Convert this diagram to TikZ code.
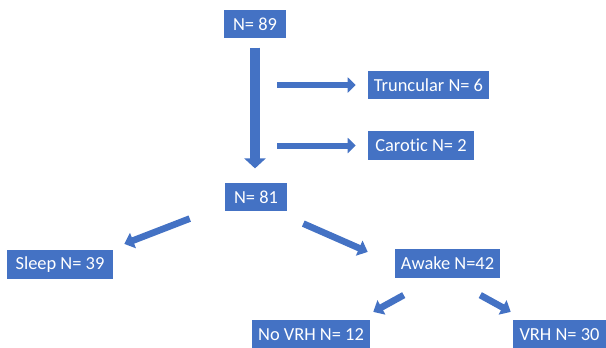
\documentclass[tikz,border=0pt]{standalone}
\usepackage{fontspec}
\setmainfont{Carlito}[Ligatures=NoCommon]
\usetikzlibrary{arrows.meta}
\definecolor{flowblue}{HTML}{4472C4}

\begin{document}
\begin{tikzpicture}[x=0.75pt, y=-0.75pt,
  box/.style={fill=flowblue, text=white, inner sep=0pt, minimum height=21.5pt,
    align=center, font=\fontsize{13.8}{16}\selectfont},
  bigarrow/.style={draw=flowblue, line width=7.5pt, -{Triangle[width=15.75pt, length=7.5pt]}},
  midarrow/.style={draw=flowblue, line width=4.5pt, -{Triangle[width=11.25pt, length=6pt]}},
  slantarrow/.style={draw=flowblue, line width=5pt, -{Triangle[width=12pt, length=7pt]}}]
  \useasboundingbox (0,0) rectangle (606,347);
  \node[box, minimum width=46.5pt] (n89) at (255,24) {N= 89};
  \node[box, minimum width=90.75pt] (trunc) at (428.5,85) {Truncular N= 6};
  \node[box, minimum width=79.5pt] (carot) at (421,145.5) {Carotic N= 2};
  \node[box, minimum width=46.5pt] (n81) at (256,197) {N= 81};
  \node[box, minimum width=79.5pt] (sleep) at (60,264.5) {Sleep N= 39};
  \node[box, minimum width=78.75pt] (awake) at (447.5,263.5) {Awake N=42};
  \node[box, minimum width=88.5pt] (novrh) at (311,334.5) {No VRH N= 12};
  \node[box, minimum width=69.75pt] (vrh) at (559.5,334.5) {VRH N= 30};
  \coordinate (tr0) at (277,85);
  \coordinate (ca0) at (277,145.5);
  \draw[bigarrow, shorten <=6.75pt, shorten >=10.5pt] (n89.south) -- (n89.south |- n81.north);
  \draw[midarrow, shorten >=9pt] (tr0) -- (trunc.west);
  \draw[midarrow, shorten >=9pt] (ca0) -- (carot.west);
  \draw[slantarrow] ([shift={(-35,7)}]n81.south west) -- ([shift={(11,-6)}]sleep.north east);
  \draw[slantarrow] ([shift={(16,12)}]n81.south east) -- ([shift={(-27,3)}]awake.north west);
  \draw[slantarrow] ([shift={(9,17)}]awake.south west) -- ([shift={(3,-8)}]novrh.north east);
  \draw[slantarrow] ([shift={(-20,17)}]awake.south east) -- ([shift={(-2,-8)}]vrh.north west);
\end{tikzpicture}
\end{document}
